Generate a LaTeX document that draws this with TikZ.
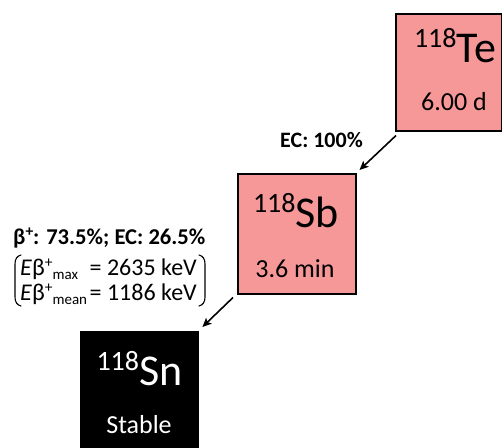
\documentclass[tikz,border=0pt]{standalone}
\usepackage{fontspec}
\setmainfont{Carlito}
\usetikzlibrary{arrows.meta}
\definecolor{nucpink}{RGB}{246,152,152}
\newcommand{\fsz}[1]{\fontsize{#1}{#1}\selectfont}
% isotope symbol: mass number raised in front of the element
\newcommand{\nuc}[2]{{\fsz{28}\raisebox{15pt}{#1}}{\fsz{44}#2}}
% small raised plus sign and lowered subscript for the beta energies
\newcommand{\bplus}{\smash{\raisebox{8pt}{\fsz{15.5}+}}}
\newcommand{\lowsub}[1]{\smash{\raisebox{-4pt}{\fsz{15}#1}}}

\begin{document}
\begin{tikzpicture}[x=1pt,y=-1pt,
  nucbox/.style={draw=black, line width=1.5pt, fill=nucpink, inner sep=0pt,
                 anchor=north west},
  stablebox/.style={fill=black, inner sep=0pt, anchor=north west},
  decay/.style={line width=1.6pt, -{Stealth[length=9pt,width=8pt,inset=2pt]}},
  lbl/.style={inner sep=0pt, anchor=base},
  half/.style={lbl, font=\fsz{26}},
  note/.style={inner sep=0pt, anchor=base west, font=\fsz{24}},
  noter/.style={note, anchor=base east},
  paren/.style={line width=1.1pt, line cap=round}]
\useasboundingbox (0,0) rectangle (502,447);
\clip (0,0) rectangle (502,447);

% nuclide boxes
\node[nucbox, minimum width=106pt, minimum height=117pt] (te) at (395,13) {};
\node[nucbox, minimum width=118pt, minimum height=120pt] (sb) at (237,173) {};
\node[stablebox, minimum width=119pt, minimum height=130pt] (sn) at (80,331) {};

% box contents
\node[lbl] (teiso) at (455,62) {\nuc{118}{Te}};
\node[half] (tehalf) at (454,110) {6.00 d};
\node[lbl] (sbiso) at (296,227) {\nuc{118}{Sb}};
\node[half] (sbhalf) at (295,277) {3.6 min};
\node[lbl, text=white] (sniso) at (139.5,385) {\nuc{118}{Sn}};
\node[half, text=white] (snhalf) at (139,433) {Stable};

% decay arrows
\draw[decay] ([shift={(1,4)}]te.south west) -- ([shift={(3,-3)}]sb.north east);
\draw[decay] ([shift={(-4,3)}]sb.south west) -- ([shift={(3,-4)}]sn.north east);

% branch labels
\node[lbl, font=\fsz{22}\bfseries] (ec) at (321.5,147) {EC: 100\%};
\node[note, font=\fsz{22.6}\bfseries] (branch) at (13,244) {β\bplus: 73.5\%; EC: 26.5\%};

\node[note] (emaxl) at (20,275) {\textit{E}β\bplus\lowsub{max}};
\node[noter] (emaxr) at (197,275) {= 2635 keV};
\node[note] (emeanl) at (20,300) {\textit{E}β\bplus\lowsub{mean}};
\node[noter] (emeanr) at (197,300) {= 1186 keV};

% enclosing parentheses
\draw[paren] (21,255) .. controls (17,256) and (15,259) .. (15,264) -- (15,297)
  .. controls (15,302) and (17,305) .. (21,306);
\draw[paren] (199,255) .. controls (203,256) and (205,259) .. (205,264) -- (205,297)
  .. controls (205,302) and (203,305) .. (199,306);
\end{tikzpicture}
\end{document}
